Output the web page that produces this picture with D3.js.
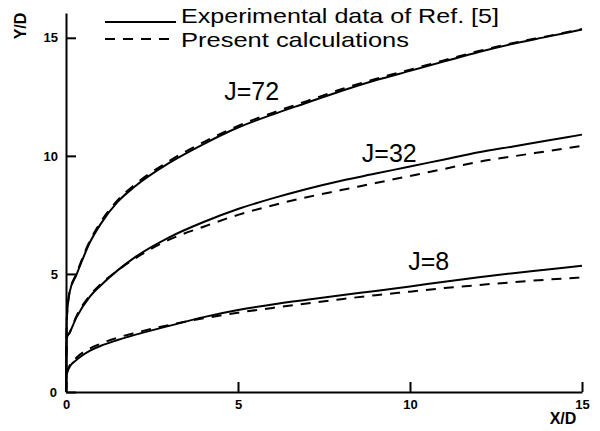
<!DOCTYPE html>
<html>
<head>
<meta charset="utf-8">
<script src="https://cdn.jsdelivr.net/npm/d3@7"></script>
<style>
  body { margin: 0; background: #fff; }
  text { font-family: "Liberation Sans", Arial, sans-serif; fill: #000; }
</style>
</head>
<body>
<script>
// X/D positions shared by every curve
var xd = [0, 0.02, 0.1, 0.3, 0.7, 1, 1.5, 2, 3, 4, 5, 6, 7, 8, 9, 10, 11, 12, 13, 14, 15];

// Y/D, experimental (solid) and present calculations (dashed)
var expJ72 = [0, 3.0, 4.2, 4.95, 6.35, 7.1, 8.05, 8.7, 9.7, 10.5, 11.2, 11.75, 12.25, 12.75, 13.2, 13.6, 14.0, 14.4, 14.75, 15.05, 15.35];
var calJ72 = [0, 3.0, 4.2, 5.0, 6.42, 7.18, 8.12, 8.78, 9.78, 10.58, 11.27, 11.82, 12.32, 12.82, 13.26, 13.65, 14.05, 14.44, 14.78, 15.07, 15.37];
var expJ32 = [0, 2.3, 2.5, 3.15, 4.05, 4.5, 5.15, 5.7, 6.55, 7.2, 7.75, 8.2, 8.6, 8.95, 9.25, 9.55, 9.85, 10.15, 10.4, 10.65, 10.9];
var calJ32 = [0, 2.3, 2.5, 3.2, 4.1, 4.55, 5.15, 5.65, 6.45, 7.0, 7.5, 7.9, 8.25, 8.55, 8.85, 9.15, 9.45, 9.75, 9.98, 10.2, 10.42];
var expJ8 = [0, 0.75, 1.05, 1.35, 1.75, 1.95, 2.2, 2.42, 2.8, 3.17, 3.47, 3.71, 3.91, 4.1, 4.28, 4.47, 4.67, 4.86, 5.03, 5.19, 5.35];
var calJ8 = [0, 0.75, 1.1, 1.45, 1.85, 2.04, 2.3, 2.5, 2.84, 3.12, 3.36, 3.56, 3.75, 3.93, 4.1, 4.25, 4.4, 4.53, 4.65, 4.76, 4.85];

var xTicks = [0, 5, 10, 15];
var yTicks = [0, 5, 10, 15];
var labels = ["J=72", "J=32", "J=8"];
var labelAt = [[4.6, 12.35], [8.6, 9.75], [9.95, 5.15]];
var legendText = ["Experimental data of Ref. [5]", "Present calculations"];

var width = 600, height = 431;

var svg = d3.select("body").append("svg")
    .attr("width", width)
    .attr("height", height);

var x = d3.scaleLinear().domain([0, 15]).range([66, 582]);
var y = d3.scaleLinear().domain([0, 16.05]).range([392, 13]);

// axes, ticks pointing inward
var xAxis = svg.append("g")
    .attr("transform", "translate(0,392)")
    .call(d3.axisBottom(x).tickValues(xTicks).tickSize(-10).tickSizeOuter(0).tickPadding(8));

var yAxis = svg.append("g")
    .attr("transform", "translate(66,0)")
    .call(d3.axisLeft(y).tickValues(yTicks).tickSize(-10).tickSizeOuter(0).tickPadding(8));

[xAxis, yAxis].forEach(function (g) {
    g.select(".domain").attr("stroke", "#000").attr("stroke-width", 2);
    g.selectAll(".tick line").attr("stroke", "#000").attr("stroke-width", 2);
    g.selectAll(".tick text")
        .style("font-size", "13px")
        .style("font-weight", "bold")
        .attr("fill", "#000");
});
// the x "0" sits right under the corner, the y "0" a bit left of it
yAxis.selectAll(".tick text").filter(function (d) { return d === 0; }).attr("x", -9);

svg.append("text")
    .attr("x", 563).attr("y", 424)
    .attr("text-anchor", "middle")
    .style("font-size", "16px").style("font-weight", "bold")
    .text("X/D");

svg.append("text")
    .attr("transform", "translate(26,26) rotate(-90)")
    .attr("text-anchor", "middle")
    .style("font-size", "16px").style("font-weight", "bold")
    .text("Y/D");

// curves
var line = d3.line()
    .x(function (d) { return x(d[0]); })
    .y(function (d) { return y(d[1]); })
    .curve(d3.curveMonotoneX);

var series = [
    { v: expJ72, dash: null }, { v: calJ72, dash: "10,8" },
    { v: expJ32, dash: null }, { v: calJ32, dash: "10,8" },
    { v: expJ8, dash: null }, { v: calJ8, dash: "10,8" }
];

svg.selectAll(".curve")
    .data(series)
    .enter()
    .append("path")
    .attr("class", "curve")
    .attr("fill", "none")
    .attr("stroke", "#000")
    .attr("stroke-width", 2)
    .attr("stroke-dasharray", function (d) { return d.dash; })
    .attr("d", function (d) { return line(d3.zip(xd, d.v)); });

svg.selectAll(".jlabel")
    .data(labels)
    .enter()
    .append("text")
    .attr("class", "jlabel")
    .attr("x", function (d, i) { return x(labelAt[i][0]); })
    .attr("y", function (d, i) { return y(labelAt[i][1]); })
    .style("font-size", "25px")
    .text(function (d) { return d; });

// legend
var legendLen = [318, 228];

var legend = svg.selectAll(".legend")
    .data(legendText)
    .enter()
    .append("g")
    .attr("class", "legend");

legend.append("line")
    .attr("x1", 105).attr("x2", 176)
    .attr("y1", function (d, i) { return i ? 39 : 22; })
    .attr("y2", function (d, i) { return i ? 39 : 22; })
    .attr("stroke", "#000")
    .attr("stroke-width", 2)
    .attr("stroke-dasharray", function (d, i) { return i ? "10,8" : null; });

legend.append("text")
    .attr("x", 181)
    .attr("y", function (d, i) { return i ? 47 : 23; })
    .attr("textLength", function (d, i) { return legendLen[i]; })
    .attr("lengthAdjust", "spacingAndGlyphs")
    .style("font-size", "21px")
    .text(function (d) { return d; });
</script>
</body>
</html>
